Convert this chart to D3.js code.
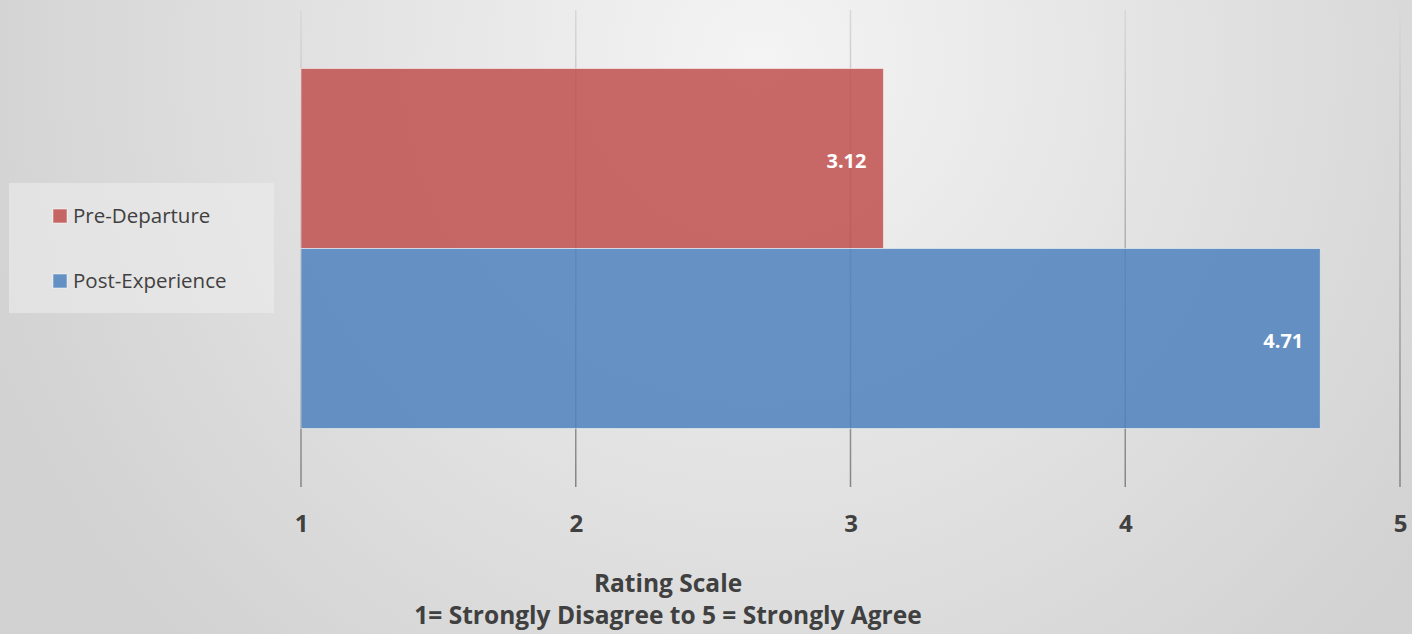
<!DOCTYPE html>
<html><head><meta charset="utf-8">
<script src="https://cdn.jsdelivr.net/npm/d3@7"></script>
<style>html,body{margin:0;padding:0;overflow:hidden;}svg{display:block;}</style>
</head><body>
<script>
const series = ["Pre-Departure", "Post-Experience"];
const values = [3.12, 4.71];
const colors = ["#c0504d", "#4f81bd"];
const tickValues = [1, 2, 3, 4, 5];
const titleLines = ["Rating Scale", "1= Strongly Disagree to 5 = Strongly Agree"];

const W = 1412, H = 634;
const font = "'Open Sans', 'Liberation Sans', sans-serif";
const svg = d3.select("body").append("svg").attr("width", W).attr("height", H);
const defs = svg.append("defs");
const bg = defs.append("radialGradient").attr("id", "bg")
  .attr("gradientUnits", "userSpaceOnUse").attr("cx", 760).attr("cy", 60).attr("r", 820);
bg.append("stop").attr("offset", "0%").attr("stop-color", "#f4f4f4");
bg.append("stop").attr("offset", "100%").attr("stop-color", "#d2d2d2");
svg.append("rect").attr("width", W).attr("height", H).attr("fill", "url(#bg)");

const gg = defs.append("linearGradient").attr("id", "grid")
  .attr("gradientUnits", "userSpaceOnUse").attr("x1", 0).attr("y1", 10).attr("x2", 0).attr("y2", 487);
gg.append("stop").attr("offset", "0%").attr("stop-color", "#d8d8d8");
gg.append("stop").attr("offset", "100%").attr("stop-color", "#858585");

const x = d3.scaleLinear().domain([1, 5]).range([301, 1400]);
const y = d3.scaleBand().domain(series).range([10, 487]).paddingInner(0).paddingOuter(0.325);

// gridlines
svg.append("g").selectAll("line").data(tickValues).join("line")
  .attr("x1", d => x(d)).attr("x2", d => x(d))
  .attr("y1", 10).attr("y2", 487)
  .attr("stroke", "url(#grid)").attr("stroke-width", 1.5);

// bars
svg.append("g").selectAll("rect").data(values).join("rect")
  .attr("x", x(1)).attr("y", (d, i) => y(series[i]))
  .attr("width", d => x(d) - x(1)).attr("height", y.bandwidth())
  .attr("fill", (d, i) => colors[i]).attr("fill-opacity", 0.85)
  .attr("stroke", "#ffffff").attr("stroke-opacity", 0.5).attr("stroke-width", 1);

// data labels
svg.append("g").selectAll("text").data(values).join("text")
  .attr("x", d => x(d) - 17).attr("y", (d, i) => y(series[i]) + y.bandwidth() / 2 + 9)
  .attr("text-anchor", "end").attr("font-family", font).attr("font-weight", "bold")
  .attr("font-size", 20).attr("fill", "#ffffff").text(d => d.toFixed(2));

// axis
const axis = d3.axisBottom(x).tickValues(tickValues).tickSize(0).tickPadding(0).tickFormat(d3.format("d"));
const ag = svg.append("g").attr("transform", "translate(0,515)").call(axis);
ag.select(".domain").remove();
ag.selectAll("text").attr("font-family", font).attr("font-weight", "bold")
  .attr("font-size", 24).attr("fill", "#404040").attr("dy", "0.7em");

// title
svg.append("g").selectAll("text").data(titleLines).join("text")
  .attr("x", 668).attr("y", (d, i) => 592 + i * 32)
  .attr("text-anchor", "middle").attr("font-family", font).attr("font-weight", "bold")
  .attr("font-size", 24.5).attr("fill", "#404040").text(d => d);

// legend
const lg = svg.append("g");
lg.append("rect").attr("x", 9).attr("y", 183).attr("width", 265).attr("height", 130)
  .attr("fill", "#ececec").attr("fill-opacity", 0.6);
const items = lg.selectAll("g").data(series).join("g")
  .attr("transform", (d, i) => `translate(53,${209 + i * 65})`);
items.append("rect").attr("width", 14).attr("height", 14)
  .attr("fill", (d, i) => colors[i]).attr("fill-opacity", 0.85)
  .attr("stroke", "#ffffff").attr("stroke-opacity", 0.5);
items.append("text").attr("x", 20).attr("y", 14).attr("font-family", font)
  .attr("font-size", 20.5).attr("fill", "#404040").text(d => d);
</script>
</body></html>
